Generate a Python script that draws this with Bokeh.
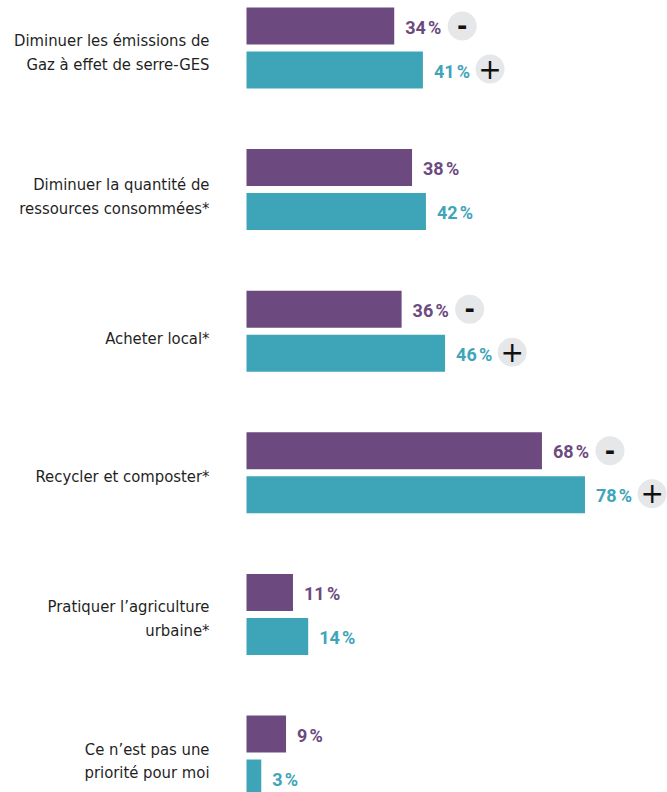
from bokeh.plotting import figure
from bokeh.models import Range1d
from bokeh.core.properties import value
from bokeh.embed import file_html
from bokeh.resources import INLINE

categories = ["Diminuer les émissions de\nGaz à effet de serre-GES",
              "Diminuer la quantité de\nressources consommées*",
              "Acheter local*",
              "Recycler et composter*",
              "Pratiquer l’agriculture\nurbaine*",
              "Ce n’est pas une\npriorité pour moi"]
minus_labels = ["34\u202f%", "38\u202f%", "36\u202f%", "68\u202f%", "11\u202f%", "9\u202f%"]
plus_labels = ["41\u202f%", "42\u202f%", "46\u202f%", "78\u202f%", "14\u202f%", "3\u202f%"]
# bar lengths
minus_values = [34.0, 38.1, 35.7, 68.0, 10.7, 9.1]
plus_values = [40.6, 41.3, 45.7, 77.9, 14.2, 3.4]
badge_rows = [0, 2, 3]
label_shift_px = [4.5, 7, 7, 4, 4, 5]
PURPLE, TEAL, GREY, INK = "#6c4a80", "#3ea5b9", "#e6e7e8", "#1f1f1f"

W, H = 667, 792
PX_PER_PCT = 4.345
ROW_PX = 141.6
X0, Y0 = 246, 47.5

p = figure(width=W, height=H, output_backend="svg", toolbar_location=None,
           x_range=Range1d(-X0 / PX_PER_PCT, (W - X0) / PX_PER_PCT),
           y_range=Range1d((H - Y0) / ROW_PX, -Y0 / ROW_PX),
           min_border=0, outline_line_color=None, background_fill_color=None,
           border_fill_color=None)
p.axis.visible = False
p.grid.visible = False

BAR_H = 37 / ROW_PX
OFF = 22 / ROW_PX
rows = list(range(len(categories)))
minus_y = [r - OFF for r in rows]
plus_y = [r + OFF for r in rows]

p.hbar(y=minus_y, left=0, right=minus_values, height=BAR_H, color=PURPLE, line_color=None)
p.hbar(y=plus_y, left=0, right=plus_values, height=BAR_H, color=TEAL, line_color=None)

VAL_FONT = value("Roboto")
p.text(x=minus_values, y=minus_y, text=minus_labels, x_offset=11, y_offset=1, text_color=PURPLE,
       text_font=VAL_FONT, text_font_style="bold", text_font_size="18px", text_baseline="middle")
p.text(x=plus_values, y=plus_y, text=plus_labels, x_offset=11, y_offset=1, text_color=TEAL,
       text_font=VAL_FONT, text_font_style="bold", text_font_size="18px", text_baseline="middle")

GAP = 68 / PX_PER_PCT
bx_m = [minus_values[r] + GAP for r in badge_rows]
by_m = [minus_y[r] for r in badge_rows]
bx_p = [plus_values[r] + GAP - 0.2 for r in badge_rows]
by_p = [plus_y[r] - 1 / ROW_PX for r in badge_rows]
p.scatter(x=bx_m + bx_p, y=by_m + by_p, size=29, marker="circle", color=GREY, line_color=None)
p.text(x=bx_m, y=by_m, text=["-"] * len(bx_m), text_align="center", text_baseline="middle", y_offset=-1,
       text_font=value("DejaVu Sans"), text_font_style="bold", text_font_size="25px", text_color="#111111")
p.text(x=bx_p, y=by_p, text=["+"] * len(bx_p), text_align="center", text_baseline="middle", y_offset=-1,
       text_font=value("DejaVu Sans"), text_font_size="28px", text_color="#111111")

p.text(x=[-37 / PX_PER_PCT] * 6, y=[r + s / ROW_PX for r, s in zip(rows, label_shift_px)], text=categories,
       text_align="right", text_baseline="middle", text_font=value("DejaVu Sans Condensed"),
       text_font_size="16.5px", text_line_height=1.25, text_color=INK)

open("out.html", "w").write(file_html(p, INLINE))
